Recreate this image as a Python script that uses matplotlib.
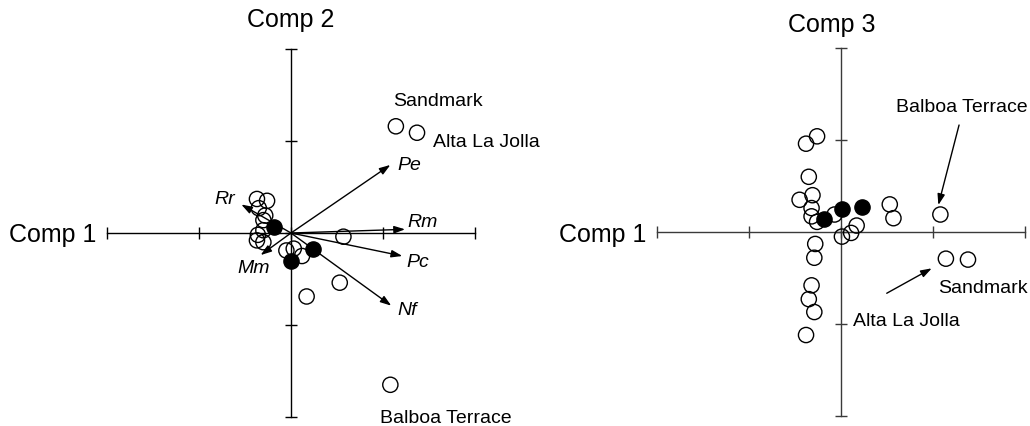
import matplotlib.pyplot as plt

plt.rcParams['font.family'] = ['Liberation Sans', 'DejaVu Sans']

# left panel: Comp 1 vs Comp 2
left_open_x = [1.14, 1.37, 1.08, 0.57, 0.53, 0.17, -0.37, -0.26, -0.35, -0.28,
               -0.30, -0.30, -0.36, -0.37, -0.30, -0.05, 0.03, 0.12]
left_open_y = [1.16, 1.09, -1.65, -0.04, -0.54, -0.69, 0.37, 0.35, 0.27, 0.19,
               0.14, 0.03, -0.02, -0.08, -0.10, -0.19, -0.17, -0.25]
left_fill_x = [-0.19, 0.0, 0.24]
left_fill_y = [0.06, -0.30, -0.17]

# variable loadings (arrows)
var_names = ["Pe", "Rm", "Pc", "Nf", "Rr", "Mm"]
load_x = [1.08, 1.24, 1.21, 1.09, -0.54, -0.33]
load_y = [0.74, 0.04, -0.25, -0.79, 0.31, -0.24]

# right panel: Comp 1 vs Comp 3
right_open_x = [-0.26, -0.38, -0.35, -0.31, -0.45, -0.32, -0.32, -0.26, -0.07, 0.17,
                0.11, 0.01, -0.28, -0.29, -0.32, -0.35, -0.29, -0.38, 0.53, 0.57,
                1.08, 1.14, 1.38]
right_open_y = [1.04, 0.96, 0.60, 0.40, 0.35, 0.26, 0.17, 0.11, 0.19, 0.07,
                -0.01, -0.05, -0.13, -0.28, -0.58, -0.73, -0.87, -1.12, 0.30, 0.15,
                0.19, -0.29, -0.30]
right_fill_x = [-0.19, 0.01, 0.23]
right_fill_y = [0.14, 0.25, 0.27]

ticks = [-2, -1, 0, 1, 2]
arrow_kw = dict(arrowstyle='-|>,head_length=0.5,head_width=0.17', color='black',
                lw=1, mutation_scale=13, shrinkA=0, shrinkB=0)

fig = plt.figure(figsize=(10.3, 4.26), dpi=100)
ax1 = fig.add_axes([0, 0, 0.5, 1])
ax2 = fig.add_axes([0.5, 0, 0.5, 1])


def setup(ax, xlim, ylim, color):
    ax.set_xlim(xlim)
    ax.set_ylim(ylim)
    for s in ['top', 'right']:
        ax.spines[s].set_visible(False)
    for s in ['left', 'bottom']:
        ax.spines[s].set_position('zero')
        ax.spines[s].set_bounds(-2, 2)
        ax.spines[s].set_color(color)
        ax.spines[s].set_linewidth(1)
    ax.set_xticks(ticks)
    ax.set_yticks(ticks)
    ax.tick_params(direction='inout', length=8, width=1, color=color,
                   labelbottom=False, labelleft=False)
    ax.patch.set_visible(False)


setup(ax1, (-3.163, 2.435), (-2.098, 2.533), 'black')
setup(ax2, (-3.543, 2.054), (-2.109, 2.522), '#3a3a3a')

ms = 120
for ax, ox, oy, fx, fy in [(ax1, left_open_x, left_open_y, left_fill_x, left_fill_y),
                           (ax2, right_open_x, right_open_y, right_fill_x, right_fill_y)]:
    ax.scatter(ox, oy, s=ms, facecolors='none', edgecolors='black', linewidths=1, zorder=3)
    ax.scatter(fx, fy, s=ms, facecolors='black', edgecolors='black', linewidths=1, zorder=3)

# arrows and italic labels
label_off = {"Pe": (5, -3.6, 'left'), "Rm": (1.4, 1.9, 'left'), "Pc": (3.1, -7.7, 'left'),
             "Nf": (4.5, -6.5, 'left'), "Rr": (-4.8, 0, 'right'), "Mm": (-16.6, -13.2, 'left')}
for name, lx, ly in zip(var_names, load_x, load_y):
    ax1.annotate('', xy=(lx, ly), xytext=(0, 0), arrowprops=arrow_kw, zorder=4)
    dx, dy, ha = label_off[name]
    ax1.annotate(name, xy=(lx, ly), xytext=(dx, dy), textcoords='offset points',
                 ha=ha, va='baseline', fontsize=14, style='italic')

# axis titles
ax1.text(0, 2.242, "Comp 2", ha='center', va='baseline', fontsize=18)
ax1.text(-2.11, -0.10, "Comp 1", ha='right', va='baseline', fontsize=18)
ax2.text(-0.098, 2.177, "Comp 3", ha='center', va='baseline', fontsize=18)
ax2.text(-2.112, -0.105, "Comp 1", ha='right', va='baseline', fontsize=18)

# site labels, left panel
ax1.text(1.109, 1.380, "Sandmark", ha='left', va='baseline', fontsize=14)
ax1.text(1.543, 0.938, "Alta La Jolla", ha='left', va='baseline', fontsize=14)
ax1.text(0.967, -2.062, "Balboa Terrace", ha='left', va='baseline', fontsize=14)

# site labels, right panel
ax2.text(0.598, 1.308, "Balboa Terrace", ha='left', va='baseline', fontsize=14)
ax2.text(1.054, -0.667, "Sandmark", ha='left', va='baseline', fontsize=14)
ax2.text(0.130, -1.022, "Alta La Jolla", ha='left', va='baseline', fontsize=14)
ax2.annotate('', xy=(1.058, 0.293), xytext=(1.283, 1.163), arrowprops=arrow_kw)
ax2.annotate('', xy=(0.986, -0.395), xytext=(0.497, -0.666), arrowprops=arrow_kw)

fig.savefig('out.png', dpi=100)
